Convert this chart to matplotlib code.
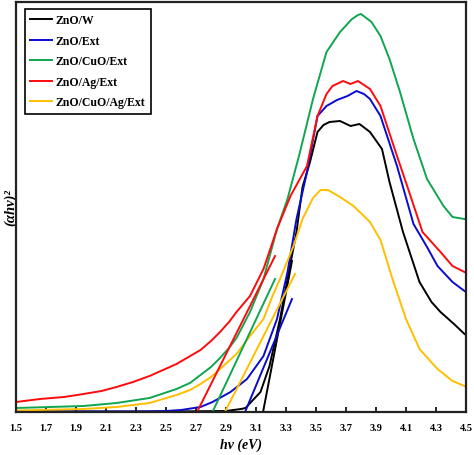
import matplotlib
matplotlib.use("Agg")
import matplotlib.pyplot as plt

plt.rcParams['font.family'] = ['Liberation Serif', 'DejaVu Serif']
plt.rcParams['font.weight'] = 'bold'

# photon energy (eV) and (alpha h nu)^2 in arbitrary units
znow_x = [1.5, 2.5, 2.9, 3.0, 3.03, 3.13, 3.19, 3.26, 3.31, 3.37, 3.41, 3.46, 3.51,
          3.55, 3.59, 3.66, 3.73, 3.79, 3.86, 3.94, 3.99, 4.08, 4.19, 4.27, 4.33, 4.42, 4.49]
znow_y = [0.5, 0.5, 1, 3, 4, 20, 46, 93, 133, 180, 225, 250, 280,
          287, 290, 291, 286, 288, 280, 263, 230, 180, 130, 110, 100, 88, 78]

znoext_x = [1.5, 2.3, 2.5, 2.6, 2.73, 2.81, 2.93, 3.04, 3.15, 3.24, 3.31, 3.37, 3.44, 3.51,
            3.57, 3.64, 3.71, 3.77, 3.82, 3.86, 3.93, 4.04, 4.15, 4.24, 4.31, 4.41, 4.49]
znoext_y = [0.5, 0.5, 1, 2, 5, 10, 20, 33, 56, 93, 140, 193, 240, 296,
            306, 312, 316, 321, 318, 313, 296, 246, 188, 165, 146, 130, 121]

cuo_x = [1.5, 1.95, 2.17, 2.39, 2.57, 2.66, 2.73, 2.8, 2.86, 2.92, 2.97, 3.06, 3.15, 3.24,
         3.31, 3.39, 3.48, 3.57, 3.66, 3.74, 3.78, 3.80, 3.87, 3.93, 3.99, 4.06, 4.15, 4.24,
         4.35, 4.41, 4.49]
cuo_y = [4, 6, 9, 14, 23, 29, 37, 45, 54, 64, 74, 100, 133, 183,
         213, 258, 313, 360, 380, 393, 397, 398, 390, 376, 353, 320, 273, 233,
         206, 195, 193]

ag_x = [1.5, 1.66, 1.82, 1.95, 2.07, 2.17, 2.28, 2.39, 2.48, 2.57, 2.65, 2.73, 2.8, 2.86,
        2.92, 2.97, 3.06, 3.15, 3.24, 3.33, 3.44, 3.51, 3.57, 3.61, 3.68, 3.73, 3.78, 3.86,
        3.93, 4.04, 4.11, 4.21, 4.33, 4.41, 4.49]
ag_y = [10, 13, 15, 18, 21, 25, 30, 36, 42, 48, 55, 62, 71, 80,
        90, 100, 116, 143, 183, 216, 246, 296, 318, 326, 331, 328, 331, 323,
        306, 256, 225, 180, 160, 146, 140]

cuoag_x = [1.5, 1.95, 2.17, 2.39, 2.57, 2.66, 2.73, 2.8, 2.86, 2.97, 3.06, 3.15, 3.21, 3.26,
           3.35, 3.41, 3.48, 3.53, 3.58, 3.66, 3.75, 3.86, 3.93, 4.01, 4.1, 4.19, 4.31,
           4.41, 4.49]
cuoag_y = [1.5, 3, 5, 9, 17, 22, 28, 35, 43, 58, 76, 93, 116, 133,
           166, 193, 214, 222, 222, 215, 206, 190, 172, 133, 93, 63, 43,
           31, 26]

# tangent (Tauc) lines: x start/end, y start/end
tang_znow = ([3.147, 3.34], [0, 151])
tang_znoext = ([3.027, 3.34], [0, 113])
tang_cuo = ([2.81, 3.227], [0, 133])
tang_ag = ([2.707, 3.227], [0, 156])
tang_cuoag = ([2.893, 3.36], [0, 138])

labels = ['ZnO/W', 'ZnO/Ext', 'ZnO/CuO/Ext', 'ZnO/Ag/Ext', 'ZnO/CuO/Ag/Ext']
colors = ['#000000', '#0a0ad0', '#10a550', '#ff0a0a', '#ffbf00']
tick_vals = [1.5, 1.7, 1.9, 2.1, 2.3, 2.5, 2.7, 2.9, 3.1, 3.3, 3.5, 3.7, 3.9, 4.1, 4.3, 4.5]

fig = plt.figure(figsize=(4.74, 4.56), dpi=100)
ax = fig.add_axes([16 / 474, 43 / 456, 450 / 474, 410 / 456])

curves = [(znow_x, znow_y), (znoext_x, znoext_y), (cuo_x, cuo_y),
          (ag_x, ag_y), (cuoag_x, cuoag_y)]
tangents = [tang_znow, tang_znoext, tang_cuo, tang_ag, tang_cuoag]

for (x, y), lab, c in zip(curves, labels, colors):
    ax.plot(x, y, color=c, lw=1.4, label=lab)
for (tx, ty), c in zip(tangents, colors):
    ax.plot(tx, ty, color=c, lw=1.4)

ax.set_xlim(1.5, 4.5)
ax.set_ylim(0, 410)
ax.set_xticks(tick_vals)
ax.set_xticklabels(['%.1f' % v for v in tick_vals])
ax.set_yticks([])
ax.tick_params(axis='x', direction='in', length=3.5, width=1.2, labelsize=7.5, pad=8)
for s in ax.spines.values():
    s.set_linewidth(1.6)
    s.set_color('#222222')

ax.set_xlabel('hν (eV)', fontsize=10, fontstyle='italic', fontweight='bold', labelpad=4)
ax.set_ylabel('(αhν)²', fontsize=10.5, fontstyle='italic', fontweight='bold', labelpad=-1)

leg = ax.legend(loc='upper left', bbox_to_anchor=(0.02, 0.983), borderaxespad=0,
                frameon=True, fancybox=False, edgecolor='black', framealpha=1,
                handlelength=1.8, handletextpad=0.35, labelspacing=0.72,
                borderpad=0.45, prop={'weight': 'bold', 'size': 8.5})
leg.get_frame().set_linewidth(1.2)

fig.savefig('out.png', dpi=100)
